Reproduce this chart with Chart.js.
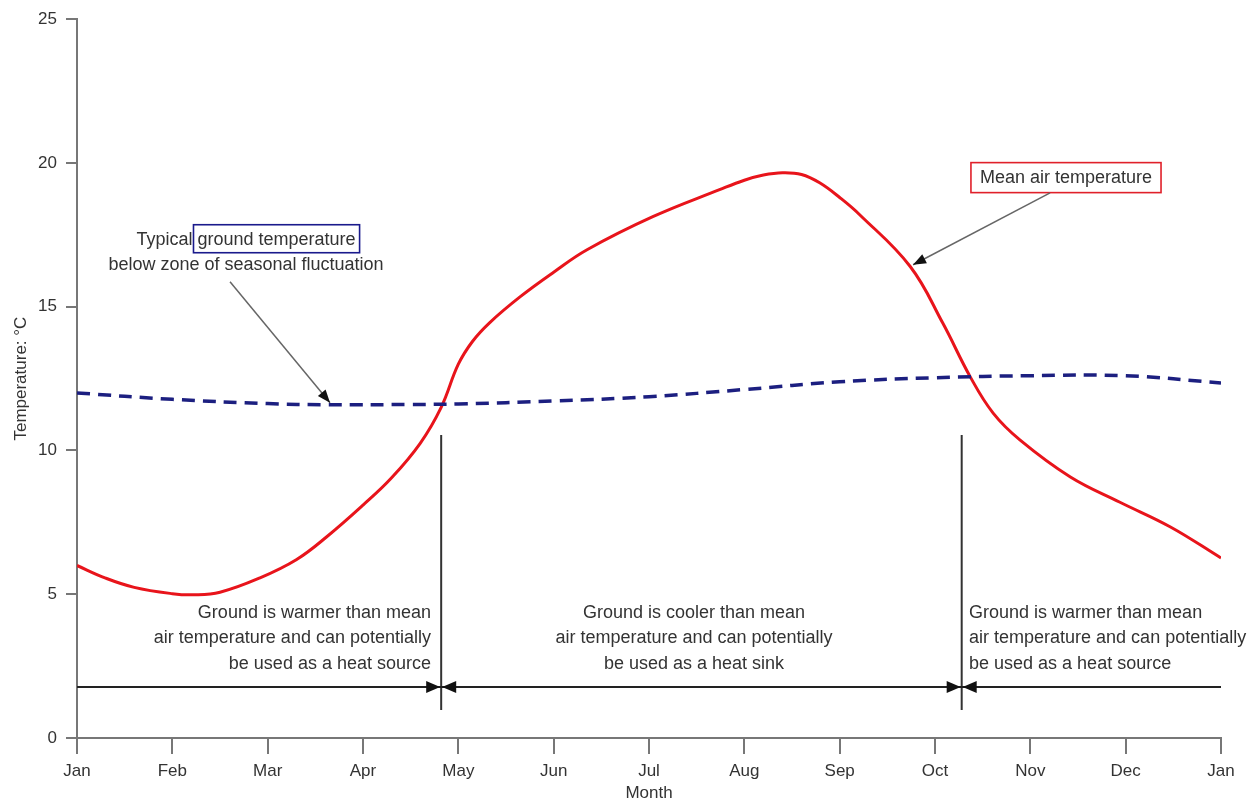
<!DOCTYPE html>
<html>
<head>
<meta charset="utf-8">
<script src="https://cdn.jsdelivr.net/npm/chart.js@4.4.1/dist/chart.umd.min.js"></script>
<style>
  html, body { margin: 0; padding: 0; background: #fff; }
  #wrap { width: 1251px; height: 802px; position: relative; }
</style>
</head>
<body>
<div id="wrap"><canvas id="chart"></canvas></div>
<script>
// axis labels
const monthLabels = ['Jan', 'Feb', 'Mar', 'Apr', 'May', 'Jun', 'Jul', 'Aug', 'Sep', 'Oct', 'Nov', 'Dec', 'Jan'];

// mean air temperature (month position, deg C)
const airMonths = [0, 0.3, 0.6, 1.0, 1.22, 1.5, 1.92, 2.3, 2.62, 3.0, 3.3, 3.6, 3.82, 4.0, 4.15, 4.33, 4.65, 5.0, 5.35, 6.04, 6.74, 7.0, 7.2, 7.4, 7.6, 7.79, 8.0, 8.21, 8.74, 9.08, 9.37, 9.61, 9.89, 10.42, 10.94, 11.47, 12.0];
const airTemps  = [6.0, 5.56, 5.24, 5.02, 4.98, 5.07, 5.57, 6.2, 7.0, 8.1, 9.05, 10.25, 11.5, 13.0, 13.8, 14.45, 15.35, 16.2, 16.98, 18.13, 19.07, 19.4, 19.58, 19.66, 19.6, 19.31, 18.8, 18.2, 16.4, 14.44, 12.56, 11.3, 10.37, 9.08, 8.2, 7.34, 6.26];

// typical ground temperature
const groundMonths = [0, 1.0, 2.0, 2.62, 3.5, 4.0, 5.0, 6.0, 7.0, 8.0, 9.0, 10.0, 11.0, 12.0];
const groundTemps  = [12.0, 11.78, 11.63, 11.59, 11.6, 11.62, 11.72, 11.87, 12.12, 12.39, 12.53, 12.6, 12.6, 12.35];

// where the curves cross (months) and the extent of the marker lines
const crossMonths = [3.82, 9.28];
const markerRange = [0.97, 10.54];
const rangeArrowLevel = 1.77;

const leftNote = ['Ground is warmer than mean', 'air temperature and can potentially', 'be used as a heat source'];
const middleNote = ['Ground is cooler than mean', 'air temperature and can potentially', 'be used as a heat sink'];
const rightNote = ['Ground is warmer than mean', 'air temperature and can potentially', 'be used as a heat source'];

const TEXT = '#333';
const FONT = '"Liberation Sans", Arial, sans-serif';

function drawArrowHead(ctx, x1, y1, x2, y2, len, half) {
    const a = Math.atan2(y2 - y1, x2 - x1);
    ctx.beginPath();
    ctx.moveTo(x2, y2);
    ctx.lineTo(x2 - len * Math.cos(a) + half * Math.sin(a), y2 - len * Math.sin(a) - half * Math.cos(a));
    ctx.lineTo(x2 - len * Math.cos(a) - half * Math.sin(a), y2 - len * Math.sin(a) + half * Math.cos(a));
    ctx.closePath();
    ctx.fill();
}

const annotations = {
    id: 'annotations',
    afterDatasetsDraw(chart) {
        const { ctx, scales: { x, y } } = chart;
        ctx.save();

        // vertical markers at the crossings
        ctx.strokeStyle = '#333';
        ctx.lineWidth = 2;
        crossMonths.forEach(m => {
            ctx.beginPath();
            ctx.moveTo(x.getPixelForValue(m), y.getPixelForValue(markerRange[1]));
            ctx.lineTo(x.getPixelForValue(m), y.getPixelForValue(markerRange[0]));
            ctx.stroke();
        });

        // range arrows along the bottom
        const ay = y.getPixelForValue(rangeArrowLevel);
        const xs = [x.getPixelForValue(0), x.getPixelForValue(crossMonths[0]), x.getPixelForValue(crossMonths[1]), x.getPixelForValue(12)];
        ctx.strokeStyle = '#222';
        ctx.fillStyle = '#111';
        ctx.beginPath();
        ctx.moveTo(xs[0], ay);
        ctx.lineTo(xs[3], ay);
        ctx.stroke();
        drawArrowHead(ctx, xs[0], ay, xs[1] - 1, ay, 14, 6);
        drawArrowHead(ctx, xs[2], ay, xs[1] + 1, ay, 14, 6);
        drawArrowHead(ctx, xs[1], ay, xs[2] - 1, ay, 14, 6);
        drawArrowHead(ctx, xs[3], ay, xs[2] + 1, ay, 14, 6);

        // notes under the curves
        ctx.font = '18px ' + FONT;
        ctx.fillStyle = TEXT;
        ctx.textBaseline = 'middle';
        const noteY = y.getPixelForValue(4.35);
        const gap = 25.5;
        ctx.textAlign = 'right';
        leftNote.forEach((t, i) => ctx.fillText(t, x.getPixelForValue(3.713), noteY + i * gap));
        ctx.textAlign = 'center';
        middleNote.forEach((t, i) => ctx.fillText(t, x.getPixelForValue(6.472), noteY + i * gap));
        ctx.textAlign = 'left';
        rightNote.forEach((t, i) => ctx.fillText(t, x.getPixelForValue(9.357), noteY + i * gap));

        // ground temperature label
        const gx = x.getPixelForValue(1.773);
        const gy = y.getPixelForValue(17.33);
        const first = 'Typical ', boxed = 'ground temperature';
        const full = ctx.measureText(first + boxed).width;
        const start = gx - full / 2;
        ctx.textAlign = 'left';
        ctx.fillText(first + boxed, start, gy);
        const bx = start + ctx.measureText(first).width - 4;
        ctx.strokeStyle = '#1a1a8c';
        ctx.lineWidth = 1.6;
        ctx.strokeRect(bx, gy - 15, ctx.measureText(boxed).width + 8, 28);
        ctx.textAlign = 'center';
        ctx.fillText('below zone of seasonal fluctuation', gx, gy + 25);

        // mean air label
        const mx = x.getPixelForValue(10.374);
        const my = y.getPixelForValue(19.49);
        const mw = ctx.measureText('Mean air temperature').width;
        ctx.fillText('Mean air temperature', mx, my);
        ctx.strokeStyle = '#e0202a';
        ctx.strokeRect(mx - mw / 2 - 9, my - 15, mw + 18, 30);

        // pointer arrows
        const pointers = [
            [1.605, 15.87, 2.654, 11.66],
            [10.207, 18.96, 8.77, 16.46]
        ];
        pointers.forEach(p => {
            const x1 = x.getPixelForValue(p[0]), y1 = y.getPixelForValue(p[1]);
            const x2 = x.getPixelForValue(p[2]), y2 = y.getPixelForValue(p[3]);
            ctx.strokeStyle = '#666';
            ctx.lineWidth = 1.5;
            ctx.beginPath();
            ctx.moveTo(x1, y1);
            ctx.lineTo(x2, y2);
            ctx.stroke();
            ctx.fillStyle = '#111';
            drawArrowHead(ctx, x1, y1, x2, y2, 13, 5);
        });

        ctx.restore();
    }
};

const axisColor = '#777';

new Chart(document.getElementById('chart'), {
    type: 'line',
    data: {
        datasets: [
            {
                label: 'Typical ground temperature',
                data: groundMonths.map((m, i) => ({ x: m, y: groundTemps[i] })),
                borderColor: '#1c1f80',
                borderWidth: 3.5,
                borderDash: [13, 8],
                pointRadius: 0,
                tension: 0.4,
                fill: false
            },
            {
                label: 'Mean air temperature',
                data: airMonths.map((m, i) => ({ x: m, y: airTemps[i] })),
                borderColor: '#e8141b',
                borderWidth: 3,
                pointRadius: 0,
                tension: 0.4,
                fill: false
            }
        ]
    },
    options: {
        responsive: true,
        maintainAspectRatio: false,
        animation: false,
        layout: { padding: { top: 19, right: 30, left: 0, bottom: 0 } },
        plugins: {
            legend: { display: false },
            tooltip: { enabled: false }
        },
        scales: {
            x: {
                type: 'linear',
                min: 0,
                max: 12,
                afterFit: s => { s.height = 64; },
                border: { display: true, color: axisColor, width: 2 },
                grid: { display: true, drawOnChartArea: false, drawTicks: true, tickLength: 16, color: axisColor, lineWidth: 2 },
                ticks: {
                    stepSize: 1,
                    padding: 7,
                    color: TEXT,
                    font: { family: FONT, size: 17 },
                    maxRotation: 0,
                    callback: v => monthLabels[v]
                },
                title: { display: true, text: 'Month', color: TEXT, font: { family: FONT, size: 17, lineHeight: 1 }, padding: 0 }
            },
            y: {
                min: 0,
                max: 25,
                afterFit: s => { s.width = 77; },
                border: { display: true, color: axisColor, width: 2 },
                grid: { display: true, drawOnChartArea: false, drawTicks: true, tickLength: 11, color: axisColor, lineWidth: 2 },
                ticks: {
                    stepSize: 5,
                    padding: 9,
                    color: TEXT,
                    font: { family: FONT, size: 17 }
                },
                title: { display: true, text: 'Temperature: °C', color: TEXT, font: { family: FONT, size: 17, lineHeight: 1.2 }, padding: { top: 11, bottom: 0 } }
            }
        }
    },
    plugins: [annotations]
});
</script>
</body>
</html>
